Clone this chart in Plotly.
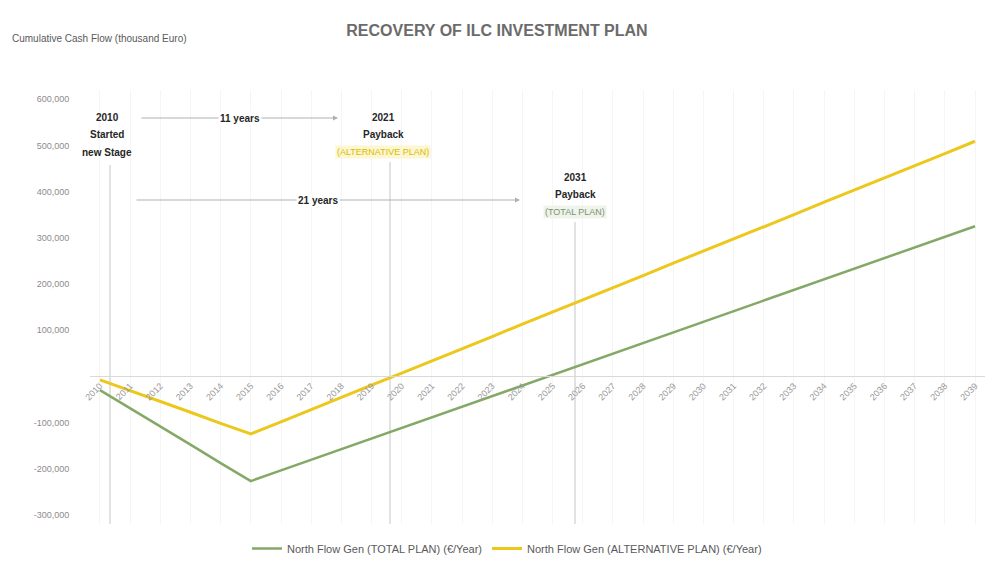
import plotly.graph_objects as go

# years on the x axis
years = [str(y) for y in range(2010, 2040)]

# cumulative cash flow
total_plan = [-30000, -69000, -109000, -148000, -188000, -227000, -204000, -181000, -158000, -135000,
              -112000, -89000, -66000, -43000, -20000, 3000, 26000, 49000, 72000, 95000,
              118000, 141000, 164000, 187000, 210000, 233000, 256000, 279000, 302000, 325000]
alt_plan = [-8000, -31000, -55000, -78000, -102000, -125000, -99000, -72000, -46000, -19000,
            7000, 33000, 60000, 86000, 113000, 139000, 166000, 192000, 218000, 245000,
            271000, 298000, 324000, 350000, 377000, 403000, 430000, 456000, 482000, 509000]

y_ticks = [-300000, -200000, -100000, 100000, 200000, 300000, 400000, 500000, 600000]
y_labels = ["-300,000", "-200,000", "-100,000", "100,000", "200,000", "300,000",
            "400,000", "500,000", "600,000"]

GREEN = "#84a865"
YELLOW = "#ecc81c"

# figure is drawn 8px smaller than the window
OFF = 8
FW, FH = 993 - OFF, 565 - OFF
# plot area, in layout pixels
L, R, T, B = 90, 985, 90, 524
W, H = R - L, B - T
YMIN, YMAX = -320000, 620000


def px(p):
    return (p - L) / W


def py(p):
    return (B - p) / H


fig = go.Figure()
fig.add_trace(go.Scatter(x=list(range(len(years))), y=total_plan, mode="lines",
                         name="North Flow Gen (TOTAL PLAN) (€/Year)",
                         line=dict(color=GREEN, width=2.5)))
fig.add_trace(go.Scatter(x=list(range(len(years))), y=alt_plan, mode="lines",
                         name="North Flow Gen (ALTERNATIVE PLAN) (€/Year)",
                         line=dict(color=YELLOW, width=3)))

shapes = []
# drop lines for the milestones
for xp, ytop in [(110, 165), (390, 162), (575, 222)]:
    shapes.append(dict(type="line", xref="paper", yref="paper", x0=px(xp), x1=px(xp),
                       y0=0, y1=py(ytop), layer="below", line=dict(color="#e2e2e2", width=2)))

ann = []


def txt(x, y, s, color="#262626", size=10, bold=True, bg=None):
    ann.append(dict(xref="paper", yref="paper", x=px(x), y=py(y), text=("<b>%s</b>" % s) if bold else s,
                    showarrow=False, font=dict(size=size, color=color), bgcolor=bg,
                    xanchor="center", yanchor="middle"))


def arrow(x0, x1, y):
    ann.append(dict(xref="paper", yref="paper", axref="pixel", ayref="pixel",
                    x=px(x1), y=py(y), ax=x0 - x1, ay=0, text="", showarrow=True,
                    arrowhead=2, arrowsize=1, arrowwidth=1, arrowcolor="#b0b0b0"))


arrow(140, 338, 118)
arrow(135, 520, 200)
txt(107, 117, "2010")
txt(107, 134, "Started")
txt(107, 152, "new Stage")
txt(240, 118, "11 years", bg="white")
txt(318, 200, "21 years", bg="white")
txt(383, 117, "2021")
txt(383, 134, "Payback")
txt(383, 152, "(ALTERNATIVE PLAN)", color="#dcbc00", bold=False, size=9, bg="#fcf6d2")
txt(575, 177, "2031")
txt(575, 194, "Payback")
txt(575, 212, "(TOTAL PLAN)", color="#7f9175", bold=False, size=9, bg="#eef4ea")

# axis caption top left
ann.append(dict(xref="paper", yref="paper", x=px(10), y=py(38), xanchor="left", yanchor="middle",
                text="Cumulative Cash Flow (thousand Euro)", showarrow=False,
                font=dict(size=10, color="#595959")))

fig.update_layout(
    width=FW, height=FH,
    margin=dict(l=L - OFF, r=993 - R, t=T - OFF, b=565 - B, autoexpand=False),
    paper_bgcolor="white", plot_bgcolor="white",
    font=dict(family="Liberation Sans, Arial, sans-serif", color="#595959"),
    title=dict(text="<b>RECOVERY OF ILC INVESTMENT PLAN</b>", x=(497 - OFF) / FW, xanchor="center",
               y=1 - (30 - OFF) / FH, yref="container", yanchor="middle",
               font=dict(size=16, color="#6b6b6b")),
    xaxis=dict(range=[-0.33, 29.33], tickvals=list(range(len(years))), ticktext=years,
               tickangle=-45, tickfont=dict(size=9, color="#999999"),
               showgrid=True, gridcolor="#f5f5f5", zeroline=False,
               showline=True, linecolor="#d9d9d9", linewidth=1,
               anchor="free", position=(0 - YMIN) / (YMAX - YMIN)),
    yaxis=dict(range=[YMIN, YMAX], tickvals=y_ticks, ticktext=y_labels,
               tickfont=dict(size=9, color="#8c8c8c"), showgrid=False, zeroline=False,
               ticks="outside", ticklen=18, tickcolor="white"),
    legend=dict(orientation="h", x=px(507), xanchor="center", y=py(534), yanchor="top",
                font=dict(size=11, color="#595959")),
    shapes=shapes, annotations=ann,
)

fig.write_html("out.html")
